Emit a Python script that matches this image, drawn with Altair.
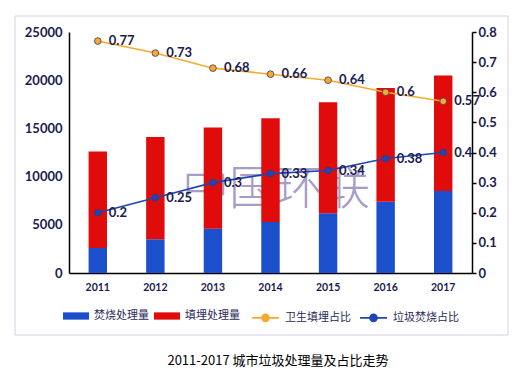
import altair as alt
import pandas as pd

years = ["2011", "2012", "2013", "2014", "2015", "2016", "2017"]
incineration = [2600, 3500, 4600, 5300, 6200, 7400, 8500]
landfill = [10000, 10600, 10500, 10750, 11500, 11800, 12000]
landfill_share = [0.77, 0.73, 0.68, 0.66, 0.64, 0.6, 0.57]
incineration_share = [0.2, 0.25, 0.3, 0.33, 0.34, 0.38, 0.4]

bar_names = ["焚烧处理量", "填埋处理量"]
line_names = ["卫生填埋占比", "垃圾焚烧占比"]
left_ticks = [0, 5000, 10000, 15000, 20000, 25000]
right_ticks = [0, 0.1, 0.2, 0.3, 0.4, 0.5, 0.6, 0.7, 0.8]
title_text = "2011-2017 城市垃圾处理量及占比走势"

bars_df = pd.DataFrame({
    "year": years * 2,
    "kind": [bar_names[0]] * len(years) + [bar_names[1]] * len(years),
    "value": incineration + landfill,
    "ord": [0] * len(years) + [1] * len(years),
})
lines_df = pd.DataFrame({
    "year": years * 2,
    "kind": [line_names[0]] * len(years) + [line_names[1]] * len(years),
    "share": landfill_share + incineration_share,
})

NAVY = "#1b1b4f"
NUM_FONT = "Lato"
CJK = "Noto Sans CJK SC"

x_enc = alt.X(
    "year:N",
    scale=alt.Scale(paddingInner=0.68, paddingOuter=0.34),
    axis=alt.Axis(title=None, labelAngle=0, ticks=False, domainColor="black",
                  domainWidth=1.5, labelFont=NUM_FONT, labelFontSize=10.5,
                  labelFontWeight="bold", labelColor=NAVY, labelPadding=9),
)

frame = alt.Chart(alt.Data(values=[{}])).mark_rect(
    filled=False, stroke="#d6cfe6", strokeWidth=1
).encode(x=alt.value(-54), x2=alt.value(439), y=alt.value(-16), y2=alt.value(303))

watermark = alt.Chart(alt.Data(values=[{}])).mark_text(
    text="中国环联", font=CJK, fontSize=47, fontWeight=300, color="#9d92c0",
    opacity=0.9, align="center", baseline="middle"
).encode(x=alt.value(207), y=alt.value(158))

title_mark = alt.Chart(alt.Data(values=[{}])).mark_text(
    text=title_text, font=CJK, fontSize=13, color="black",
    align="center", baseline="middle"
).encode(x=alt.value(209), y=alt.value(329))

bars = alt.Chart(bars_df).mark_bar().encode(
    x=x_enc,
    y=alt.Y("value:Q", stack="zero", scale=alt.Scale(domain=[0, 25000]),
            axis=alt.Axis(title=None, values=left_ticks, format="d", ticks=False,
                          grid=False, domainColor="black", domainWidth=1.5,
                          labelFont=NUM_FONT, labelFontSize=13, labelFontWeight="bold",
                          labelColor=NAVY, labelPadding=7)),
    color=alt.Color("kind:N", scale=alt.Scale(domain=bar_names, range=["#1c4fcc", "#e00c0c"]),
                    legend=alt.Legend(title=None, orient="none", legendX=-6, legendY=271,
                                      direction="horizontal",
                                      symbolType="M-1,-0.28H1V0.28H-1Z", symbolSize=676,
                                      symbolStrokeWidth=0, labelFont=CJK, labelFontSize=11,
                                      labelColor="#2a2a5a", labelOffset=5, columnPadding=5,
                                      padding=0)),
    order=alt.Order("ord:Q", sort="ascending"),
)

y_right = alt.Y("share:Q", scale=alt.Scale(domain=[0, 0.8]),
                axis=alt.Axis(title=None, orient="right", values=right_ticks, format="~g",
                              tickSize=4, tickColor="black", tickWidth=1.5, grid=False,
                              domainColor="black", domainWidth=1.5, labelFont=NUM_FONT,
                              labelFontSize=13, labelFontWeight="bold", labelColor=NAVY,
                              labelPadding=2))

lines = alt.Chart(lines_df).mark_line(
    strokeWidth=1.6,
    point=alt.OverlayMarkDef(filled=True, size=45, stroke="#3a3a6a", strokeWidth=0.8),
).encode(
    x=x_enc,
    y=y_right,
    color=alt.Color("kind:N", scale=alt.Scale(domain=line_names, range=["#f5aa2e", "#1f45b5"]),
                    legend=alt.Legend(title=None, orient="none", legendX=182, legendY=271,
                                      direction="horizontal",
                                      symbolType="M-1,0H1M0.26,0A0.26,0.26 0 1,1 -0.26,0A0.26,0.26 0 1,1 0.26,0",
                                      symbolSize=729, symbolStrokeWidth=1.6, labelFont=CJK,
                                      labelFontSize=11, labelColor="#2a2a5a", labelOffset=5,
                                      columnPadding=5, padding=0)),
)

labels = alt.Chart(lines_df).mark_text(
    align="left", baseline="middle", dx=11, font=NUM_FONT, fontSize=13,
    fontWeight="bold", color=NAVY
).encode(x=x_enc, y=y_right, text=alt.Text("share:Q", format="~g"))

chart = alt.layer(
    frame, watermark, title_mark, bars, alt.layer(lines, labels)
).resolve_scale(
    y="independent", color="independent"
).properties(
    width=403, height=241,
    autosize=alt.AutoSizeParams(type="none"),
    padding={"left": 61, "top": 24, "right": 44, "bottom": 100},
).configure_view(stroke=None)

chart.save("out.html", embed_options={"renderer": "svg", "actions": False})
